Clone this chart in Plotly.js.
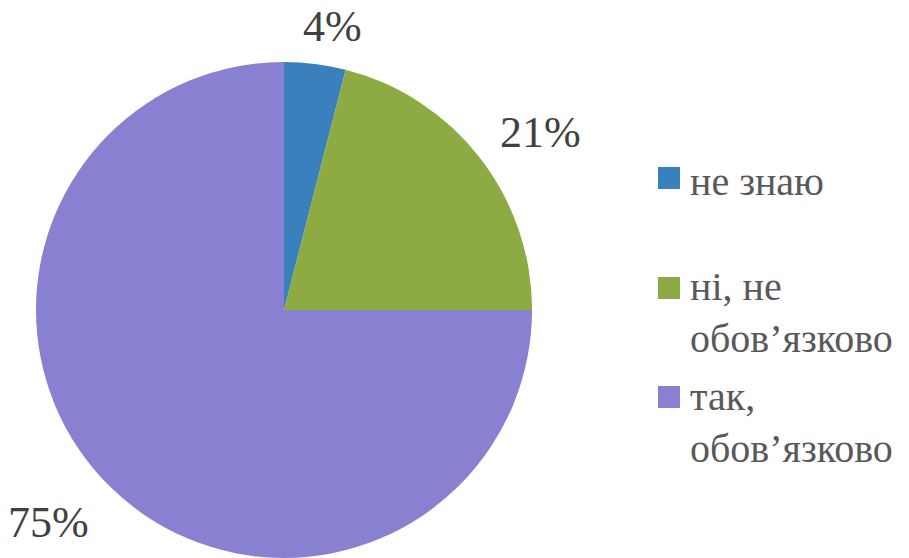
<!DOCTYPE html>
<html><head><meta charset="utf-8">
<script src="https://cdn.plot.ly/plotly-3.0.1.min.js"></script>
</head><body style="margin:0">
<div id="chart" style="width:909px;height:558px"></div>
<script>
const categories = ["не знаю", "ні, не<br>обов’язково", "так,<br>обов’язково"];
const values = [4, 21, 75];
const colors = ["#3A80BD", "#8DAA43", "#8A80D1"];
const labelPos = [[332, 27], [540, 133], [48, 522]];
const legendTop = [157, 262, 372];
const squareTop = [167, 277, 386];

const total = values.reduce((a, b) => a + b, 0);
const W = 909, H = 558;

const annotations = values.map((v, i) => ({
  xref: "paper", yref: "paper",
  x: labelPos[i][0] / W, y: 1 - labelPos[i][1] / H,
  xanchor: "center", yanchor: "middle",
  text: Math.round(v / total * 100) + "%",
  showarrow: false,
  font: {family: "Times New Roman", size: 44, color: "#404040"}
})).concat(categories.map((c, i) => ({
  xref: "paper", yref: "paper",
  x: 688 / W, y: 1 - legendTop[i] / H,
  xanchor: "left", yanchor: "top", align: "left",
  text: c, showarrow: false,
  font: {family: "Times New Roman", size: 40, color: "#595959"}
})));

const shapes = colors.map((col, i) => ({
  type: "rect", xref: "paper", yref: "paper",
  x0: 658 / W, x1: 680 / W,
  y0: 1 - squareTop[i] / H, y1: 1 - (squareTop[i] + 22) / H,
  fillcolor: col, line: {width: 0}
}));

Plotly.newPlot("chart", [{
  type: "pie",
  labels: categories,
  values: values,
  marker: {colors: colors, line: {width: 0}},
  sort: false,
  direction: "clockwise",
  rotation: 0,
  textinfo: "none",
  hoverinfo: "none",
  domain: {x: [0.0385, 0.5864], y: [0, 0.889]}
}], {
  width: W, height: H,
  margin: {l: 0, r: 0, t: 0, b: 0},
  paper_bgcolor: "#fff",
  font: {family: "Times New Roman"},
  showlegend: false,
  annotations: annotations,
  shapes: shapes
}, {displayModeBar: false});
</script>
</body></html>
